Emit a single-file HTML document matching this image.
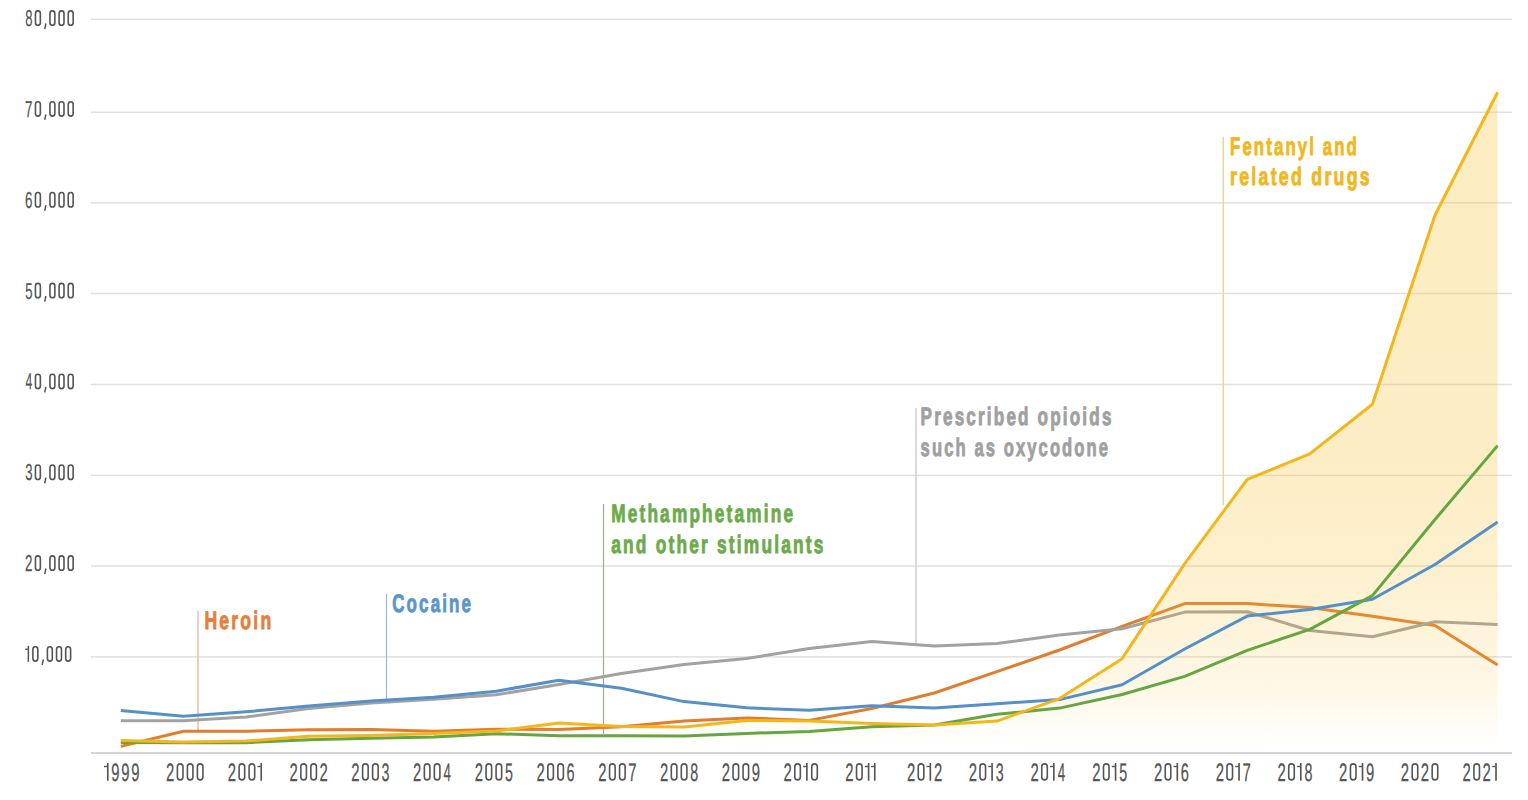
<!DOCTYPE html>
<html><head><meta charset="utf-8"><style>
html,body{margin:0;padding:0;background:#fff;width:1528px;height:800px;overflow:hidden}
svg{display:block}
.tk{font-family:"Liberation Sans",sans-serif;font-size:25.3px;fill:#555;stroke:#555;stroke-width:0.25px;text-rendering:geometricPrecision}
.tky{font-family:"Liberation Sans",sans-serif;font-size:23px;fill:#555;stroke:#555;stroke-width:0.25px;text-rendering:geometricPrecision}
.lb{font-family:"Liberation Sans",sans-serif;font-size:25.3px;font-weight:bold;letter-spacing:3.2px;stroke-width:0.9px;text-rendering:geometricPrecision}
</style></head><body>
<svg width="1528" height="800" viewBox="0 0 1528 800">
<defs><linearGradient id="fg" gradientUnits="userSpaceOnUse" x1="0" y1="92" x2="0" y2="748"><stop offset="0" stop-color="#f8be28" stop-opacity="0.29"/><stop offset="0.546" stop-color="#f8be28" stop-opacity="0.27"/><stop offset="0.713" stop-color="#f8be28" stop-opacity="0.23"/><stop offset="0.793" stop-color="#f8be28" stop-opacity="0.19"/><stop offset="0.912" stop-color="#f8be28" stop-opacity="0.11"/><stop offset="0.973" stop-color="#f8be28" stop-opacity="0.03"/><stop offset="1" stop-color="#f8be28" stop-opacity="0"/></linearGradient></defs>
<rect x="91" y="18.55" width="1421" height="1.5" fill="#e0e0e0"/>
<rect x="91" y="111.55" width="1421" height="1.5" fill="#e0e0e0"/>
<rect x="91" y="202.00" width="1421" height="1.5" fill="#e0e0e0"/>
<rect x="91" y="292.75" width="1421" height="1.5" fill="#e0e0e0"/>
<rect x="91" y="383.75" width="1421" height="1.5" fill="#e0e0e0"/>
<rect x="91" y="474.65" width="1421" height="1.5" fill="#e0e0e0"/>
<rect x="91" y="565.25" width="1421" height="1.5" fill="#e0e0e0"/>
<rect x="91" y="656.15" width="1421" height="1.5" fill="#e0e0e0"/>
<rect x="91" y="752" width="1421" height="2" fill="#d5d5d5"/>
<text class="tky" transform="translate(25.13,26.10) scale(0.5674,1)">8</text>
<rect x="35.45" y="10.90" width="4.90" height="14.40" rx="2.45" ry="2.57" fill="none" stroke="#555" stroke-width="1.6"/>
<line x1="45.90" y1="23.50" x2="44.70" y2="29.10" stroke="#555" stroke-width="1.5"/>
<rect x="49.95" y="10.90" width="4.90" height="14.40" rx="2.45" ry="2.57" fill="none" stroke="#555" stroke-width="1.6"/>
<rect x="59.10" y="10.90" width="4.90" height="14.40" rx="2.45" ry="2.57" fill="none" stroke="#555" stroke-width="1.6"/>
<rect x="68.25" y="10.90" width="4.90" height="14.40" rx="2.45" ry="2.57" fill="none" stroke="#555" stroke-width="1.6"/>
<text class="tky" transform="translate(24.97,116.93) scale(0.5810,1)">7</text>
<rect x="35.45" y="101.73" width="4.90" height="14.40" rx="2.45" ry="2.57" fill="none" stroke="#555" stroke-width="1.6"/>
<line x1="45.90" y1="114.33" x2="44.70" y2="119.93" stroke="#555" stroke-width="1.5"/>
<rect x="49.95" y="101.73" width="4.90" height="14.40" rx="2.45" ry="2.57" fill="none" stroke="#555" stroke-width="1.6"/>
<rect x="59.10" y="101.73" width="4.90" height="14.40" rx="2.45" ry="2.57" fill="none" stroke="#555" stroke-width="1.6"/>
<rect x="68.25" y="101.73" width="4.90" height="14.40" rx="2.45" ry="2.57" fill="none" stroke="#555" stroke-width="1.6"/>
<text class="tky" transform="translate(24.97,207.76) scale(0.5810,1)">6</text>
<rect x="35.45" y="192.56" width="4.90" height="14.40" rx="2.45" ry="2.57" fill="none" stroke="#555" stroke-width="1.6"/>
<line x1="45.90" y1="205.16" x2="44.70" y2="210.76" stroke="#555" stroke-width="1.5"/>
<rect x="49.95" y="192.56" width="4.90" height="14.40" rx="2.45" ry="2.57" fill="none" stroke="#555" stroke-width="1.6"/>
<rect x="59.10" y="192.56" width="4.90" height="14.40" rx="2.45" ry="2.57" fill="none" stroke="#555" stroke-width="1.6"/>
<rect x="68.25" y="192.56" width="4.90" height="14.40" rx="2.45" ry="2.57" fill="none" stroke="#555" stroke-width="1.6"/>
<text class="tky" transform="translate(25.13,298.59) scale(0.5674,1)">5</text>
<rect x="35.45" y="283.39" width="4.90" height="14.40" rx="2.45" ry="2.57" fill="none" stroke="#555" stroke-width="1.6"/>
<line x1="45.90" y1="295.99" x2="44.70" y2="301.59" stroke="#555" stroke-width="1.5"/>
<rect x="49.95" y="283.39" width="4.90" height="14.40" rx="2.45" ry="2.57" fill="none" stroke="#555" stroke-width="1.6"/>
<rect x="59.10" y="283.39" width="4.90" height="14.40" rx="2.45" ry="2.57" fill="none" stroke="#555" stroke-width="1.6"/>
<rect x="68.25" y="283.39" width="4.90" height="14.40" rx="2.45" ry="2.57" fill="none" stroke="#555" stroke-width="1.6"/>
<text class="tky" transform="translate(25.43,389.42) scale(0.5304,1)">4</text>
<rect x="35.45" y="374.22" width="4.90" height="14.40" rx="2.45" ry="2.57" fill="none" stroke="#555" stroke-width="1.6"/>
<line x1="45.90" y1="386.82" x2="44.70" y2="392.42" stroke="#555" stroke-width="1.5"/>
<rect x="49.95" y="374.22" width="4.90" height="14.40" rx="2.45" ry="2.57" fill="none" stroke="#555" stroke-width="1.6"/>
<rect x="59.10" y="374.22" width="4.90" height="14.40" rx="2.45" ry="2.57" fill="none" stroke="#555" stroke-width="1.6"/>
<rect x="68.25" y="374.22" width="4.90" height="14.40" rx="2.45" ry="2.57" fill="none" stroke="#555" stroke-width="1.6"/>
<text class="tky" transform="translate(25.13,480.25) scale(0.5674,1)">3</text>
<rect x="35.45" y="465.05" width="4.90" height="14.40" rx="2.45" ry="2.57" fill="none" stroke="#555" stroke-width="1.6"/>
<line x1="45.90" y1="477.65" x2="44.70" y2="483.25" stroke="#555" stroke-width="1.5"/>
<rect x="49.95" y="465.05" width="4.90" height="14.40" rx="2.45" ry="2.57" fill="none" stroke="#555" stroke-width="1.6"/>
<rect x="59.10" y="465.05" width="4.90" height="14.40" rx="2.45" ry="2.57" fill="none" stroke="#555" stroke-width="1.6"/>
<rect x="68.25" y="465.05" width="4.90" height="14.40" rx="2.45" ry="2.57" fill="none" stroke="#555" stroke-width="1.6"/>
<text class="tky" transform="translate(24.97,571.08) scale(0.5810,1)">2</text>
<rect x="35.45" y="555.88" width="4.90" height="14.40" rx="2.45" ry="2.57" fill="none" stroke="#555" stroke-width="1.6"/>
<line x1="45.90" y1="568.48" x2="44.70" y2="574.08" stroke="#555" stroke-width="1.5"/>
<rect x="49.95" y="555.88" width="4.90" height="14.40" rx="2.45" ry="2.57" fill="none" stroke="#555" stroke-width="1.6"/>
<rect x="59.10" y="555.88" width="4.90" height="14.40" rx="2.45" ry="2.57" fill="none" stroke="#555" stroke-width="1.6"/>
<rect x="68.25" y="555.88" width="4.90" height="14.40" rx="2.45" ry="2.57" fill="none" stroke="#555" stroke-width="1.6"/>
<rect x="27.60" y="645.91" width="1.50" height="16.00" fill="#555"/>
<rect x="25.10" y="648.56" width="2.80" height="1.3" fill="#555"/>
<rect x="32.90" y="646.71" width="4.90" height="14.40" rx="2.45" ry="2.57" fill="none" stroke="#555" stroke-width="1.6"/>
<line x1="43.35" y1="659.31" x2="42.15" y2="664.91" stroke="#555" stroke-width="1.5"/>
<rect x="47.40" y="646.71" width="4.90" height="14.40" rx="2.45" ry="2.57" fill="none" stroke="#555" stroke-width="1.6"/>
<rect x="56.55" y="646.71" width="4.90" height="14.40" rx="2.45" ry="2.57" fill="none" stroke="#555" stroke-width="1.6"/>
<rect x="65.70" y="646.71" width="4.90" height="14.40" rx="2.45" ry="2.57" fill="none" stroke="#555" stroke-width="1.6"/>
<rect x="106.95" y="763.00" width="1.65" height="17.70" fill="#555"/>
<rect x="104.00" y="765.80" width="3.25" height="1.4" fill="#555"/>
<text class="tk" transform="translate(111.32,780.70) scale(0.5870,1)">9</text>
<text class="tk" transform="translate(121.32,780.70) scale(0.5870,1)">9</text>
<text class="tk" transform="translate(131.32,780.70) scale(0.5870,1)">9</text>
<text class="tk" transform="translate(166.06,780.70) scale(0.5870,1)">2</text>
<rect x="177.39" y="763.90" width="5.55" height="16.00" rx="2.78" ry="2.91" fill="none" stroke="#555" stroke-width="1.6"/>
<rect x="187.39" y="763.90" width="5.55" height="16.00" rx="2.78" ry="2.91" fill="none" stroke="#555" stroke-width="1.6"/>
<rect x="197.39" y="763.90" width="5.55" height="16.00" rx="2.78" ry="2.91" fill="none" stroke="#555" stroke-width="1.6"/>
<text class="tk" transform="translate(227.80,780.70) scale(0.5870,1)">2</text>
<rect x="239.13" y="763.90" width="5.55" height="16.00" rx="2.78" ry="2.91" fill="none" stroke="#555" stroke-width="1.6"/>
<rect x="249.13" y="763.90" width="5.55" height="16.00" rx="2.78" ry="2.91" fill="none" stroke="#555" stroke-width="1.6"/>
<rect x="260.38" y="763.00" width="1.65" height="17.70" fill="#555"/>
<rect x="257.43" y="765.80" width="3.25" height="1.4" fill="#555"/>
<text class="tk" transform="translate(289.54,780.70) scale(0.5870,1)">2</text>
<rect x="300.87" y="763.90" width="5.55" height="16.00" rx="2.78" ry="2.91" fill="none" stroke="#555" stroke-width="1.6"/>
<rect x="310.87" y="763.90" width="5.55" height="16.00" rx="2.78" ry="2.91" fill="none" stroke="#555" stroke-width="1.6"/>
<text class="tk" transform="translate(319.54,780.70) scale(0.5870,1)">2</text>
<text class="tk" transform="translate(351.28,780.70) scale(0.5870,1)">2</text>
<rect x="362.61" y="763.90" width="5.55" height="16.00" rx="2.78" ry="2.91" fill="none" stroke="#555" stroke-width="1.6"/>
<rect x="372.61" y="763.90" width="5.55" height="16.00" rx="2.78" ry="2.91" fill="none" stroke="#555" stroke-width="1.6"/>
<text class="tk" transform="translate(381.45,780.70) scale(0.5625,1)">3</text>
<text class="tk" transform="translate(413.02,780.70) scale(0.5870,1)">2</text>
<rect x="424.35" y="763.90" width="5.55" height="16.00" rx="2.78" ry="2.91" fill="none" stroke="#555" stroke-width="1.6"/>
<rect x="434.35" y="763.90" width="5.55" height="16.00" rx="2.78" ry="2.91" fill="none" stroke="#555" stroke-width="1.6"/>
<text class="tk" transform="translate(443.49,780.70) scale(0.5294,1)">4</text>
<text class="tk" transform="translate(474.76,780.70) scale(0.5870,1)">2</text>
<rect x="486.09" y="763.90" width="5.55" height="16.00" rx="2.78" ry="2.91" fill="none" stroke="#555" stroke-width="1.6"/>
<rect x="496.09" y="763.90" width="5.55" height="16.00" rx="2.78" ry="2.91" fill="none" stroke="#555" stroke-width="1.6"/>
<text class="tk" transform="translate(504.93,780.70) scale(0.5625,1)">5</text>
<text class="tk" transform="translate(536.50,780.70) scale(0.5870,1)">2</text>
<rect x="547.83" y="763.90" width="5.55" height="16.00" rx="2.78" ry="2.91" fill="none" stroke="#555" stroke-width="1.6"/>
<rect x="557.83" y="763.90" width="5.55" height="16.00" rx="2.78" ry="2.91" fill="none" stroke="#555" stroke-width="1.6"/>
<text class="tk" transform="translate(566.51,780.70) scale(0.5745,1)">6</text>
<text class="tk" transform="translate(598.24,780.70) scale(0.5870,1)">2</text>
<rect x="609.57" y="763.90" width="5.55" height="16.00" rx="2.78" ry="2.91" fill="none" stroke="#555" stroke-width="1.6"/>
<rect x="619.57" y="763.90" width="5.55" height="16.00" rx="2.78" ry="2.91" fill="none" stroke="#555" stroke-width="1.6"/>
<text class="tk" transform="translate(628.24,780.70) scale(0.5870,1)">7</text>
<text class="tk" transform="translate(659.98,780.70) scale(0.5870,1)">2</text>
<rect x="671.31" y="763.90" width="5.55" height="16.00" rx="2.78" ry="2.91" fill="none" stroke="#555" stroke-width="1.6"/>
<rect x="681.31" y="763.90" width="5.55" height="16.00" rx="2.78" ry="2.91" fill="none" stroke="#555" stroke-width="1.6"/>
<text class="tk" transform="translate(690.15,780.70) scale(0.5625,1)">8</text>
<text class="tk" transform="translate(721.72,780.70) scale(0.5870,1)">2</text>
<rect x="733.05" y="763.90" width="5.55" height="16.00" rx="2.78" ry="2.91" fill="none" stroke="#555" stroke-width="1.6"/>
<rect x="743.05" y="763.90" width="5.55" height="16.00" rx="2.78" ry="2.91" fill="none" stroke="#555" stroke-width="1.6"/>
<text class="tk" transform="translate(751.72,780.70) scale(0.5870,1)">9</text>
<text class="tk" transform="translate(783.46,780.70) scale(0.5870,1)">2</text>
<rect x="794.79" y="763.90" width="5.55" height="16.00" rx="2.78" ry="2.91" fill="none" stroke="#555" stroke-width="1.6"/>
<rect x="806.04" y="763.00" width="1.65" height="17.70" fill="#555"/>
<rect x="803.09" y="765.80" width="3.25" height="1.4" fill="#555"/>
<rect x="811.74" y="763.90" width="5.55" height="16.00" rx="2.78" ry="2.91" fill="none" stroke="#555" stroke-width="1.6"/>
<text class="tk" transform="translate(845.20,780.70) scale(0.5870,1)">2</text>
<rect x="856.53" y="763.90" width="5.55" height="16.00" rx="2.78" ry="2.91" fill="none" stroke="#555" stroke-width="1.6"/>
<rect x="867.78" y="763.00" width="1.65" height="17.70" fill="#555"/>
<rect x="864.83" y="765.80" width="3.25" height="1.4" fill="#555"/>
<rect x="873.93" y="763.00" width="1.65" height="17.70" fill="#555"/>
<rect x="870.98" y="765.80" width="3.25" height="1.4" fill="#555"/>
<text class="tk" transform="translate(906.94,780.70) scale(0.5870,1)">2</text>
<rect x="918.27" y="763.90" width="5.55" height="16.00" rx="2.78" ry="2.91" fill="none" stroke="#555" stroke-width="1.6"/>
<rect x="929.52" y="763.00" width="1.65" height="17.70" fill="#555"/>
<rect x="926.57" y="765.80" width="3.25" height="1.4" fill="#555"/>
<text class="tk" transform="translate(933.89,780.70) scale(0.5870,1)">2</text>
<text class="tk" transform="translate(968.68,780.70) scale(0.5870,1)">2</text>
<rect x="980.01" y="763.90" width="5.55" height="16.00" rx="2.78" ry="2.91" fill="none" stroke="#555" stroke-width="1.6"/>
<rect x="991.26" y="763.00" width="1.65" height="17.70" fill="#555"/>
<rect x="988.31" y="765.80" width="3.25" height="1.4" fill="#555"/>
<text class="tk" transform="translate(995.80,780.70) scale(0.5625,1)">3</text>
<text class="tk" transform="translate(1030.42,780.70) scale(0.5870,1)">2</text>
<rect x="1041.75" y="763.90" width="5.55" height="16.00" rx="2.78" ry="2.91" fill="none" stroke="#555" stroke-width="1.6"/>
<rect x="1053.00" y="763.00" width="1.65" height="17.70" fill="#555"/>
<rect x="1050.05" y="765.80" width="3.25" height="1.4" fill="#555"/>
<text class="tk" transform="translate(1057.84,780.70) scale(0.5294,1)">4</text>
<text class="tk" transform="translate(1092.16,780.70) scale(0.5870,1)">2</text>
<rect x="1103.49" y="763.90" width="5.55" height="16.00" rx="2.78" ry="2.91" fill="none" stroke="#555" stroke-width="1.6"/>
<rect x="1114.74" y="763.00" width="1.65" height="17.70" fill="#555"/>
<rect x="1111.79" y="765.80" width="3.25" height="1.4" fill="#555"/>
<text class="tk" transform="translate(1119.28,780.70) scale(0.5625,1)">5</text>
<text class="tk" transform="translate(1153.90,780.70) scale(0.5870,1)">2</text>
<rect x="1165.23" y="763.90" width="5.55" height="16.00" rx="2.78" ry="2.91" fill="none" stroke="#555" stroke-width="1.6"/>
<rect x="1176.48" y="763.00" width="1.65" height="17.70" fill="#555"/>
<rect x="1173.53" y="765.80" width="3.25" height="1.4" fill="#555"/>
<text class="tk" transform="translate(1180.86,780.70) scale(0.5745,1)">6</text>
<text class="tk" transform="translate(1215.64,780.70) scale(0.5870,1)">2</text>
<rect x="1226.97" y="763.90" width="5.55" height="16.00" rx="2.78" ry="2.91" fill="none" stroke="#555" stroke-width="1.6"/>
<rect x="1238.22" y="763.00" width="1.65" height="17.70" fill="#555"/>
<rect x="1235.27" y="765.80" width="3.25" height="1.4" fill="#555"/>
<text class="tk" transform="translate(1242.59,780.70) scale(0.5870,1)">7</text>
<text class="tk" transform="translate(1277.38,780.70) scale(0.5870,1)">2</text>
<rect x="1288.71" y="763.90" width="5.55" height="16.00" rx="2.78" ry="2.91" fill="none" stroke="#555" stroke-width="1.6"/>
<rect x="1299.96" y="763.00" width="1.65" height="17.70" fill="#555"/>
<rect x="1297.01" y="765.80" width="3.25" height="1.4" fill="#555"/>
<text class="tk" transform="translate(1304.50,780.70) scale(0.5625,1)">8</text>
<text class="tk" transform="translate(1339.12,780.70) scale(0.5870,1)">2</text>
<rect x="1350.45" y="763.90" width="5.55" height="16.00" rx="2.78" ry="2.91" fill="none" stroke="#555" stroke-width="1.6"/>
<rect x="1361.70" y="763.00" width="1.65" height="17.70" fill="#555"/>
<rect x="1358.75" y="765.80" width="3.25" height="1.4" fill="#555"/>
<text class="tk" transform="translate(1366.07,780.70) scale(0.5870,1)">9</text>
<text class="tk" transform="translate(1400.86,780.70) scale(0.5870,1)">2</text>
<rect x="1412.19" y="763.90" width="5.55" height="16.00" rx="2.78" ry="2.91" fill="none" stroke="#555" stroke-width="1.6"/>
<text class="tk" transform="translate(1420.86,780.70) scale(0.5870,1)">2</text>
<rect x="1432.19" y="763.90" width="5.55" height="16.00" rx="2.78" ry="2.91" fill="none" stroke="#555" stroke-width="1.6"/>
<text class="tk" transform="translate(1462.60,780.70) scale(0.5870,1)">2</text>
<rect x="1473.93" y="763.90" width="5.55" height="16.00" rx="2.78" ry="2.91" fill="none" stroke="#555" stroke-width="1.6"/>
<text class="tk" transform="translate(1482.60,780.70) scale(0.5870,1)">2</text>
<rect x="1495.18" y="763.00" width="1.65" height="17.70" fill="#555"/>
<rect x="1492.23" y="765.80" width="3.25" height="1.4" fill="#555"/>
<rect x="197.20" y="610.4" width="1.6" height="120.6" fill="#e0c6b4"/>
<rect x="385.90" y="594" width="1.2" height="107.0" fill="#a8b3c4"/>
<rect x="602.90" y="504" width="1.2" height="230.0" fill="#9dac97"/>
<rect x="915.10" y="407.8" width="1.8" height="236.2" fill="#d6d6d6"/>
<rect x="1222.60" y="136.8" width="1.3" height="368.2" fill="#e3d196"/>
<polyline points="120.8,746.4 183.4,731.2 246.0,731.2 308.5,729.8 371.1,729.5 433.7,731.2 496.3,729.2 558.9,729.5 621.4,726.8 684.0,721.0 746.6,717.9 809.2,720.4 871.8,708.5 934.3,693.0 996.9,671.7 1059.5,650.0 1122.1,626.3 1184.7,603.6 1247.2,603.6 1309.8,607.6 1372.4,616.2 1435.0,625.6 1497.6,665.0" fill="none" stroke="#e27d30" stroke-width="3" stroke-linejoin="round" />
<polyline points="120.8,720.8 183.4,720.7 246.0,717.0 308.5,708.5 371.1,702.9 433.7,699.3 496.3,694.8 558.9,684.5 621.4,673.5 684.0,664.6 746.6,658.5 809.2,648.4 871.8,641.6 934.3,646.1 996.9,643.6 1059.5,634.9 1122.1,628.7 1184.7,612.1 1247.2,611.7 1309.8,630.5 1372.4,636.8 1435.0,621.8 1497.6,624.5" fill="none" stroke="#a2a2a2" stroke-width="3" stroke-linejoin="round" />
<polygon points="120.8,740.5 183.4,742.0 246.0,741.0 308.5,736.3 371.1,735.6 433.7,733.6 496.3,731.0 558.9,723.0 621.4,726.4 684.0,727.1 746.6,720.4 809.2,721.0 871.8,723.4 934.3,725.0 996.9,721.1 1059.5,698.6 1122.1,658.7 1184.7,563.7 1247.2,479.4 1309.8,453.9 1372.4,404.3 1435.0,215.2 1497.6,92.3 1497.6,752 120.8,752" fill="url(#fg)"/>
<polyline points="120.8,710.5 183.4,716.3 246.0,711.8 308.5,706.1 371.1,700.9 433.7,697.3 496.3,691.2 558.9,680.2 621.4,688.3 684.0,701.6 746.6,707.8 809.2,710.3 871.8,705.7 934.3,708.1 996.9,703.7 1059.5,699.6 1122.1,684.8 1184.7,649.0 1247.2,616.1 1309.8,609.5 1372.4,599.3 1435.0,564.5 1497.6,522.0" fill="none" stroke="#5590c8" stroke-width="3" stroke-linejoin="round" />
<polyline points="120.8,742.6 183.4,742.7 246.0,742.7 308.5,739.8 371.1,738.2 433.7,736.9 496.3,733.7 558.9,735.7 621.4,735.7 684.0,736.1 746.6,733.4 809.2,731.4 871.8,726.8 934.3,725.0 996.9,714.3 1059.5,708.1 1122.1,694.5 1184.7,676.4 1247.2,650.3 1309.8,629.4 1372.4,595.6 1435.0,519.5 1497.6,445.6" fill="none" stroke="#65a642" stroke-width="3" stroke-linejoin="round" />
<polyline points="120.8,740.5 183.4,742.0 246.0,741.0 308.5,736.3 371.1,735.6 433.7,733.6 496.3,731.0 558.9,723.0 621.4,726.4 684.0,727.1 746.6,720.4 809.2,721.0 871.8,723.4 934.3,725.0 996.9,721.1 1059.5,698.6 1122.1,658.7 1184.7,563.7 1247.2,479.4 1309.8,453.9 1372.4,404.3 1435.0,215.2 1497.6,92.3" fill="none" stroke="#f3b61d" stroke-width="3" stroke-linejoin="round" />
<text class="lb" x="204.4" y="628.7" fill="#e57f3b" stroke="#e57f3b" textLength="69" lengthAdjust="spacingAndGlyphs">Heroin</text>
<text class="lb" x="392.2" y="611.5" fill="#5b96cb" stroke="#5b96cb" textLength="81" lengthAdjust="spacingAndGlyphs">Cocaine</text>
<text class="lb" x="611.2" y="521.8" fill="#6cab4a" stroke="#6cab4a" textLength="184" lengthAdjust="spacingAndGlyphs">Methamphetamine</text>
<text class="lb" x="611.2" y="552.7" fill="#6cab4a" stroke="#6cab4a" textLength="214.5" lengthAdjust="spacingAndGlyphs">and other stimulants</text>
<text class="lb" x="920.6" y="424.6" fill="#a0a0a0" stroke="#a0a0a0" textLength="193" lengthAdjust="spacingAndGlyphs">Prescribed opioids</text>
<text class="lb" x="920.6" y="455.7" fill="#a0a0a0" stroke="#a0a0a0" textLength="189.5" lengthAdjust="spacingAndGlyphs">such as oxycodone</text>
<text class="lb" x="1230" y="154.9" fill="#f2b720" stroke="#f2b720" textLength="129" lengthAdjust="spacingAndGlyphs">Fentanyl and</text>
<text class="lb" x="1230" y="185.0" fill="#f2b720" stroke="#f2b720" textLength="142" lengthAdjust="spacingAndGlyphs">related drugs</text>
</svg>
</body></html>
